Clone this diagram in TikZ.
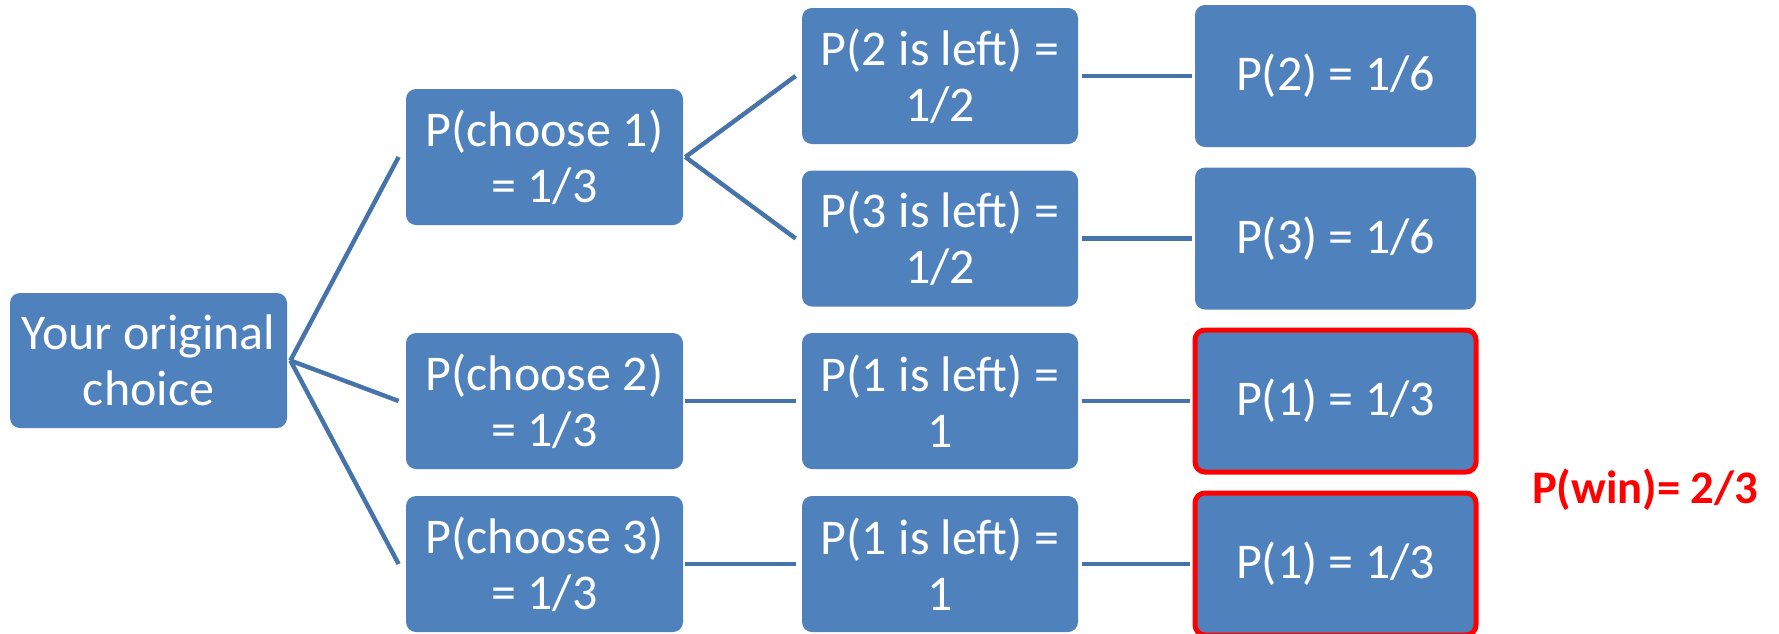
\documentclass[tikz,border=0pt]{standalone}
\usepackage{fontspec}
\setmainfont{Carlito}
\definecolor{boxblue}{HTML}{4F81BD}
\definecolor{linkblue}{HTML}{4673A9}
\definecolor{winred}{HTML}{FF0000}
\tikzset{
  prob/.style={rectangle, rounded corners=5pt, fill=boxblue, text=white,
    align=center, inner sep=0pt, font=\fontsize{25pt}{28pt}\selectfont},
  colA/.style={prob, minimum width=138.5pt, minimum height=67.5pt},
  colB/.style={prob, minimum width=138.5pt, minimum height=68pt},
  colC/.style={prob, minimum width=138pt, minimum height=68pt},
  colD/.style={prob, minimum width=140.5pt, minimum height=71pt},
  winbox/.style={draw=winred, line width=2.5pt},
  link/.style={draw=linkblue, line width=2.2pt}
}
\begin{document}
\begin{tikzpicture}[x=0.5pt, y=-0.5pt]
  \useasboundingbox (0,0) rectangle (1779,633);

  % root
  \node[colA] (root) at (148.5,360.5) {Your original\\choice};

  % first choice
  \node[colB] (c1) at (544.5,157)   {P(choose 1)\\= 1/3};
  \node[colB] (c2) at (544.5,401)   {P(choose 2)\\= 1/3};
  \node[colB] (c3) at (544.5,564)   {P(choose 3)\\= 1/3};

  % door left closed
  \node[colC] (l2)  at (940,76)    {P(2 is left) =\\1/2};
  \node[colC] (l3)  at (940,238.5) {P(3 is left) =\\1/2};
  \node[colC] (l1a) at (940,401)   {P(1 is left) =\\1};
  \node[colC] (l1b) at (940,564)   {P(1 is left) =\\1};

  % outcomes
  \node[colD] (p2)  at (1335.5,76)    {P(2) = 1/6};
  \node[colD] (p3)  at (1335.5,238.5) {P(3) = 1/6};
  \node[colD, winbox] (p1a) at (1335.5,401) {P(1) = 1/3};
  \node[colD, winbox] (p1b) at (1335.5,564) {P(1) = 1/3};

  % total
  \node[anchor=base, text=winred, inner sep=0pt,
        font=\fontsize{23.3pt}{28pt}\selectfont\bfseries] (pwin) at (1645,503) {P(win)= 2/3};

  % connectors
  \foreach \child in {c1,c2,c3}
    \path[link] ([xshift=1.5pt]root.east) -- ([xshift=-3.5pt]\child.west);
  \path[link] ([xshift=1pt]c1.east) -- ([xshift=-3pt]l2.west);
  \path[link] ([xshift=1pt]c1.east) -- ([xshift=-3pt]l3.west);
  \path[link] ([xshift=1pt]c2.east) -- ([xshift=-3pt]l1a.west);
  \path[link] ([xshift=1pt]c3.east) -- ([xshift=-3pt]l1b.west);
  \path[link] ([xshift=2pt]l2.east)  -- ([xshift=-1.5pt]p2.west);
  \path[link] ([xshift=2pt]l3.east)  -- ([xshift=-1.5pt]p3.west);
  \path[link] ([xshift=2pt]l1a.east) -- ([xshift=-1.5pt]p1a.west);
  \path[link] ([xshift=2pt]l1b.east) -- ([xshift=-1.5pt]p1b.west);
\end{tikzpicture}
\end{document}
